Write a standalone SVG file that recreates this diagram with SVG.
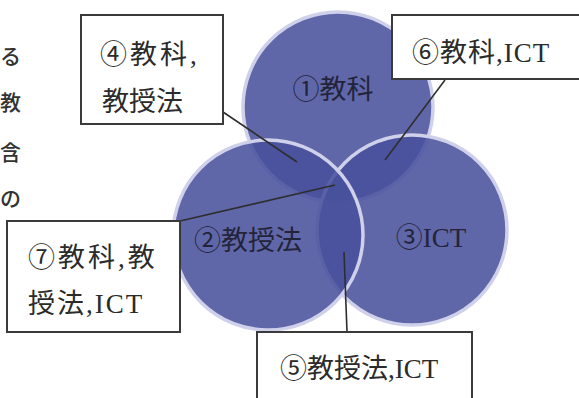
<svg xmlns="http://www.w3.org/2000/svg" width="579" height="398" viewBox="0 0 579 398">
<style>
.t{font-family:"Liberation Serif","Noto Sans CJK JP",serif;fill:#2b2b2b;font-size:27px}
.c{font-family:"Liberation Serif","Noto Sans CJK JP",serif;fill:#23243a;font-size:27px}
.side{font-family:"Noto Sans CJK JP",sans-serif;fill:#333;font-size:21px;font-weight:500}
.circ{fill:rgb(72,80,156);fill-opacity:0.87;stroke:#cfd0ea;stroke-width:3.5}
.box{fill:#fff;stroke:#3a3a3a;stroke-width:2}
.ln{stroke:#2e2e2e;stroke-width:1.6;fill:none}
</style>
<rect width="579" height="398" fill="#fff"/>
<g id="side-text">
<text class="side" x="0" y="64">る</text>
<text class="side" x="0" y="110">教</text>
<text class="side" x="0" y="160">含</text>
<text class="side" x="0" y="206">の</text>
</g>
<g id="circles">
<g id="c1"><circle class="circ" cx="338" cy="107" r="95"/></g>
<g id="c3"><circle class="circ" cx="412" cy="230" r="95"/></g>
<g id="c2"><circle class="circ" cx="268" cy="235" r="95"/></g>
</g>
<g id="circle-labels">
<text class="c" x="333" y="99" text-anchor="middle">①教科</text>
<text class="c" x="248" y="250" text-anchor="middle">②教授法</text>
<text class="c" x="431" y="247" text-anchor="middle">③ICT</text>
</g>
<g id="connectors">
<line class="ln" x1="223" y1="112" x2="297" y2="162"/>
<line class="ln" x1="445" y1="80" x2="385" y2="160"/>
<line class="ln" x1="180" y1="221" x2="335" y2="185"/>
<line class="ln" x1="344" y1="252" x2="347" y2="332"/>
</g>
<g id="box4">
<rect class="box" x="81" y="15" width="142" height="109"/>
<text class="t" x="100" y="64" letter-spacing="3">④教科,</text>
<text class="t" x="102" y="111">教授法</text>
</g>
<g id="box6">
<rect class="box" x="392" y="15" width="200" height="64"/>
<text class="t" x="412" y="62" letter-spacing="1">⑥教科,ICT</text>
</g>
<g id="box7">
<rect class="box" x="7" y="221" width="173" height="111"/>
<text class="t" x="28" y="267" letter-spacing="3">⑦教科,教</text>
<text class="t" x="28" y="313" letter-spacing="2">授法,ICT</text>
</g>
<g id="box5">
<rect class="box" x="257" y="332" width="215" height="80"/>
<text class="t" x="280" y="378">⑤教授法,ICT</text>
</g>
</svg>
